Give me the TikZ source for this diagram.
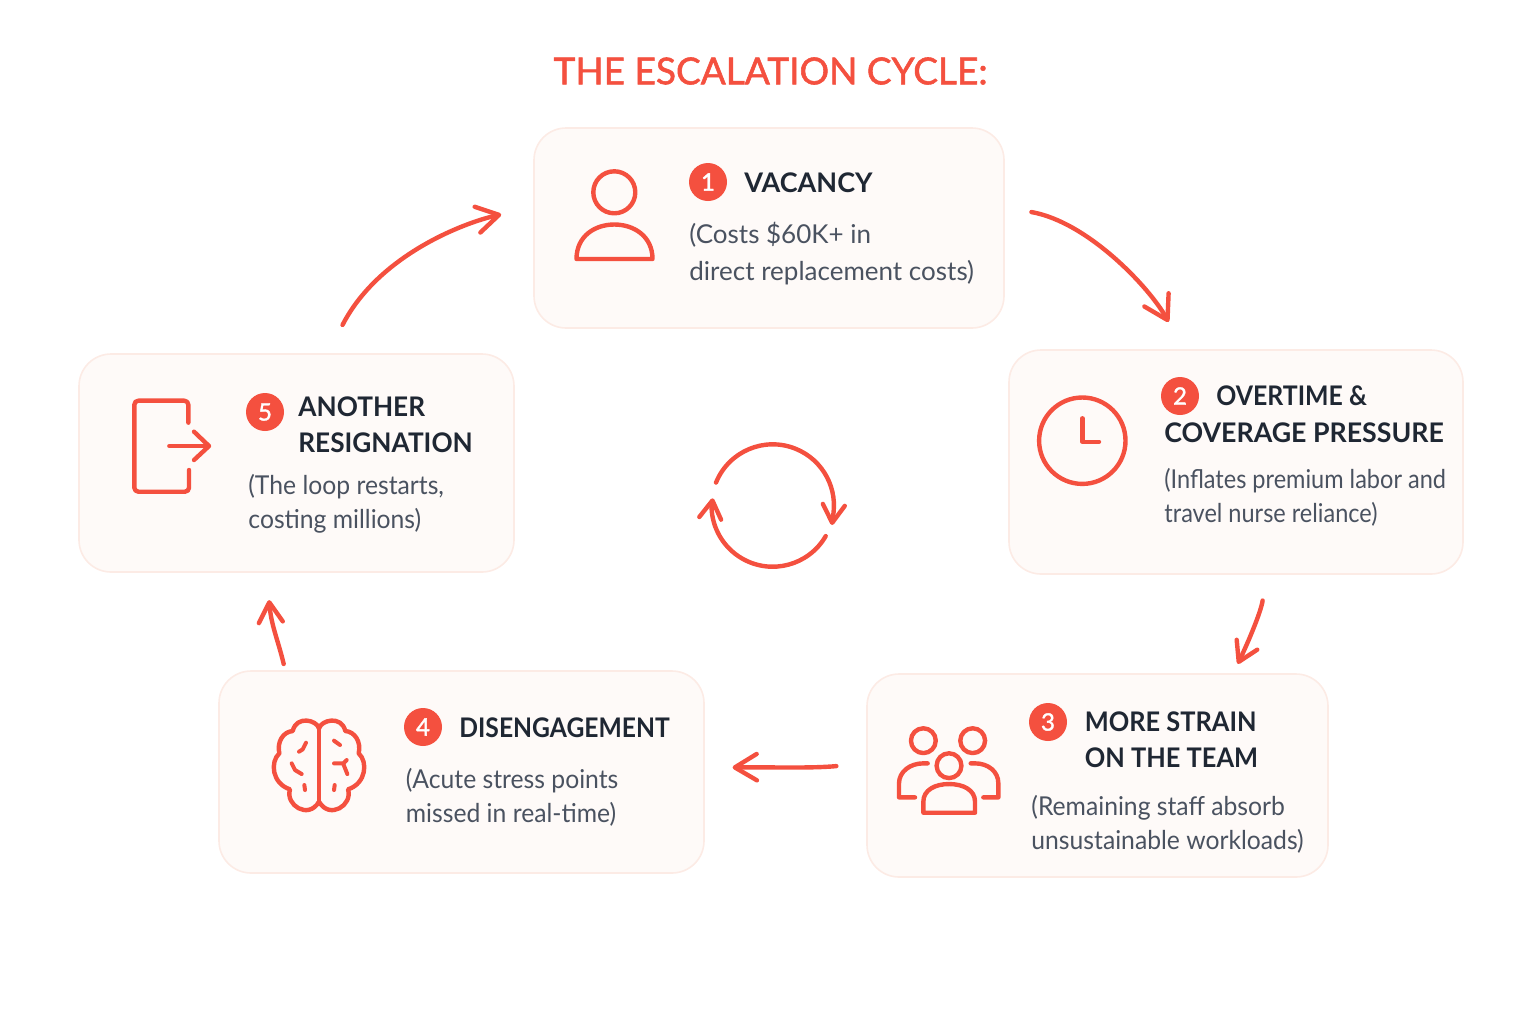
\documentclass[tikz,border=0pt]{standalone}
\usepackage{fontspec}
\usepackage{xcolor}
\setmainfont{Lato}
\newfontfamily\mediumfont[FakeBold=1.5]{Lato}
\usetikzlibrary{arrows.meta,calc}
\definecolor{coral}{HTML}{F4503F}
\definecolor{cardfill}{HTML}{FEFAF8}
\definecolor{cardline}{HTML}{FCEBE5}
\definecolor{headink}{HTML}{1F2733}
\definecolor{bodyink}{HTML}{4A5260}
\begin{document}
\begin{tikzpicture}[x=0.5pt,y=-0.5pt,
  card/.style={draw=cardline,fill=cardfill,line width=0.8pt,rounded corners=16pt},
  badge/.style={circle,fill=coral,text=white,minimum size=19pt,inner sep=0pt,font=\mediumfont\fontsize{12}{12}\selectfont},
  heading/.style={anchor=north west,inner sep=0pt,align=left,text=headink,font=\fontsize{13.5}{18}\selectfont\bfseries\addfontfeature{FakeStretch=#1}},
  heading/.default=1,
  detail/.style={anchor=north west,inner sep=0pt,align=left,text=bodyink,font=\fontsize{13}{17}\selectfont\addfontfeature{FakeStretch=#1}},
  detail/.default=0.95,
  flow/.style={draw=coral,line width=2.2pt,line cap=round,-{Straight Barb[length=#1pt,width=1.2*#1pt,round]}},
  flow/.default=11,
  icon/.style={draw=coral,line width=2.2pt,line cap=round,line join=round},
  turn/.style={icon,-{Straight Barb[length=9pt,width=11pt,round]}},
  fine/.style={draw=coral,line width=2pt,line cap=round,line join=round}]
  \useasboundingbox (0,0) rectangle (1536,1024);
  \node[anchor=center,text=coral,font=\mediumfont\fontsize{18.5}{19}\selectfont] (title) at (770.5,71) {THE ESCALATION CYCLE:};

  % cards
  \node[card,minimum width=235pt,minimum height=100pt] (vacancy) at (769,228) {};
  \node[card,minimum width=227pt,minimum height=112pt] (overtime) at (1236,462) {};
  \node[card,minimum width=230.5pt,minimum height=101.5pt] (strain) at (1097.5,775.5) {};
  \node[card,minimum width=242.5pt,minimum height=101pt] (disengage) at (461.5,772) {};
  \node[card,minimum width=217.5pt,minimum height=109pt] (resign) at (296.5,463) {};

  % badges
  \node[badge] (badge1) at (708,182) {1};
  \node[badge] (badge2) at (1180,396) {2};
  \node[badge] (badge3) at (1048,722) {3};
  \node[badge] (badge4) at (423,727) {4};
  \node[badge] (badge5) at (265,412) {5};

  % texts
  \node[heading] (head1) at (744,172.5) {VACANCY};
  \node[detail=1] (text1) at (689,222) {(Costs \$60K+ in\\[1.2pt]direct replacement costs)};
  \node[heading=0.92] (head2) at (1216,385.5) {OVERTIME \&};
  \node[heading=0.99] (head2b) at (1164,422) {COVERAGE PRESSURE};
  \node[detail=0.905] (text2) at (1164,467.5) {(Inflates premium labor and\\travel nurse reliance)};
  \node[heading=0.94] (head3) at (1084.5,711.5) {MORE STRAIN\\ON THE TEAM};
  \node[detail] (text3) at (1031,795) {(Remaining staff absorb\\unsustainable workloads)};
  \node[heading=0.913] (head4) at (459,717) {DISENGAGEMENT};
  \node[detail] (text4) at (405.5,768) {(Acute stress points\\missed in real-time)};
  \node[heading=0.97] (head5) at (298,396) {ANOTHER\\RESIGNATION};
  \node[detail] (text5) at (248,474) {(The loop restarts,\\costing millions)};

  % connectors
  \draw[flow=11.5,shorten <=13.5pt,shorten >=15.5pt] (vacancy.5.6) .. controls (1088,222) and (1150,288) .. (overtime.115);
  \draw[flow=9.5,shorten <=13pt,shorten >=5.2pt] (overtime.-75) .. controls (1261,612) and (1247.6,643.4) .. (strain.37.5);
  \draw[flow,shorten <=15pt,shorten >=13.9pt] (strain.177.6) .. controls (810,768.5) and (770,767) .. (disengage.1.2);
  \draw[flow=10,shorten <=3.2pt,shorten >=13.7pt] (disengage.150.5) .. controls (278,640) and (271,625) .. (resign.-105.5);
  \draw[flow,shorten <=15.9pt,shorten >=16.4pt] (resign.74.4) .. controls (378,256) and (462.3,223) .. (vacancy.175.7);

  % centre loop
  \coordinate (loop) at (772.7,505.5);
  \draw[turn] ($(loop)+(-56.7,-22.9)$) arc[start angle=158,end angle=-12,radius=30.6pt] -- ($(loop)+(59.3,19.5)$);
  \draw[turn] ($(loop)+(53,30.6)$) arc[start angle=-30,end angle=-178,radius=30.6pt] -- ($(loop)+(-60,-7.2)$);

  % person
  \draw[icon] (614.3,192.3) circle (10.5pt);
  \draw[icon] (576.5,259) .. controls (576.5,236) and (595,224.5) .. (614.3,224.5) .. controls (633.6,224.5) and (652.5,236) .. (652.5,259) -- cycle;

  % clock
  \draw[icon] (1082.3,440.7) circle (21.6pt);
  \draw[icon] (1082.3,418.3) -- (1082.3,441.7) -- (1099,441.7);

  % team
  \begin{scope}[shift={(880,700)},x=0.1667pt,y=-0.1667pt]
    \draw[icon] (130,122) circle (6.2pt);
    \draw[icon] (278,122) circle (6.2pt);
    \draw[icon] (207,197) circle (6.2pt);
    \draw[icon] (130,338) -- (130,305) .. controls (130,270) and (165,252) .. (207,252) .. controls (250,252) and (285,270) .. (285,305) -- (285,338) -- cycle;
    \draw[icon] (143,190) -- (130,190) .. controls (90,190) and (57,215) .. (57,250) -- (57,292) -- (105,292);
    \draw[icon] (272,190) -- (285,190) .. controls (325,190) and (355,215) .. (355,250) -- (355,292) -- (310,292);
  \end{scope}

  % brain
  \begin{scope}[shift={(250,700)},x=0.1667pt,y=-0.1667pt]
    \draw[icon] (207,85) -- (207,305);
    \draw[icon] (207,85) .. controls (200,60) and (140,45) .. (128,93) .. controls (100,95) and (80,125) .. (88,160) .. controls (60,185) and (65,250) .. (120,268) .. controls (105,315) and (175,360) .. (207,305);
    \draw[icon] (207,85) .. controls (214,60) and (274,45) .. (286,93) .. controls (314,95) and (334,125) .. (326,160) .. controls (354,185) and (349,250) .. (294,268) .. controls (309,315) and (239,360) .. (207,305);
    \draw[fine] (168,128) -- (158,148) -- (147,155);
    \draw[fine] (125,190) -- (135,210) -- (155,222);
    \draw[fine] (163,255) -- (165,270);
    \draw[fine] (252,122) -- (270,135);
    \draw[fine] (252,190) -- (280,190) -- (290,180);
    \draw[fine] (280,192) -- (292,222);
    \draw[fine] (254,255) -- (252,270);
  \end{scope}

  % exit door
  \begin{scope}[shift={(110,380)},x=0.1667pt,y=-0.1667pt]
    \draw[icon,rounded corners=2pt] (235,128) -- (235,62) -- (73,62) -- (73,335) -- (237,335) -- (237,270);
    \draw[icon] (178,198) -- (295,198);
    \draw[icon] (252,155) -- (297,198) -- (252,240);
  \end{scope}
\end{tikzpicture}
\end{document}
